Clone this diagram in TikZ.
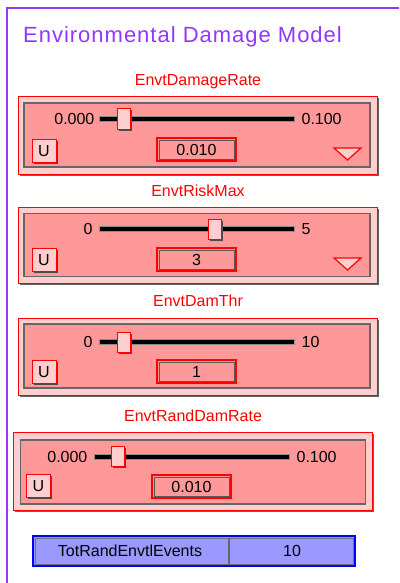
\documentclass[tikz,border=0pt]{standalone}
\usepackage{fontspec}
\setmainfont{Liberation Sans}
\newfontfamily\titlefont[LetterSpace=4.5]{Liberation Sans}
\usetikzlibrary{positioning,shadows}
\definecolor{framepurple}{RGB}{145,55,255}
\definecolor{panelred}{RGB}{255,153,153}
\definecolor{knobpink}{RGB}{255,206,206}
\definecolor{tablue}{RGB}{153,153,255}

\begin{document}
\begin{tikzpicture}[x=1pt,y=-1pt,node distance=4pt,
	panel/.style={shape=rectangle,draw=red,line width=1pt,fill=knobpink,inner sep=0pt,
		drop shadow={shadow xshift=1.5pt,shadow yshift=-1.5pt,fill=black!60,opacity=1}},
	bevel/.style={shape=rectangle,draw=black!60,line width=1.2pt,fill=panelred,inner sep=0pt},
	ctllabel/.style={text=red,inner sep=0pt,anchor=base,font=\fontsize{16}{18}\selectfont},
	numlbl/.style={inner sep=0pt,text height=11.5pt,text depth=0pt,font=\fontsize{16}{18}\selectfont},
	track/.style={shape=rectangle,fill=black,draw=black!45,line width=0.8pt,minimum height=4.5pt,inner sep=0pt},
	knob/.style={shape=rectangle,fill=knobpink,draw=red,line width=1pt,minimum width=13pt,minimum height=20pt,inner sep=0pt,
		drop shadow={shadow xshift=1.5pt,shadow yshift=-1.5pt,fill=black!70,opacity=1}},
	ubutton/.style={shape=rectangle,fill=knobpink,draw=red,line width=1pt,minimum width=24pt,minimum height=23pt,inner sep=0pt,
		text height=11.5pt,text depth=0pt,font=\fontsize{16}{18}\selectfont,
		drop shadow={shadow xshift=1.5pt,shadow yshift=-1.5pt,fill=black!70,opacity=1}},
	valbox/.style={shape=rectangle,draw=red,line width=1.4pt,fill=panelred,minimum width=79pt,minimum height=23pt,inner sep=0pt,
		text height=11.5pt,text depth=0pt,font=\fontsize{16}{18}\selectfont,
		path picture={\draw[black!65,line width=1pt] ([shift={(2pt,-2pt)}]path picture bounding box.north west)
			rectangle ([shift={(-2pt,2pt)}]path picture bounding box.south east);}},
	menutri/.style={draw=red,line width=1.2pt,fill=knobpink,line join=miter}]

	\useasboundingbox (0,0) rectangle (399,583);

	% frame and title
	\draw[framepurple,line width=1.2pt] (399,8) -- (7,8) -- (7,583);
	\node (title) [anchor=base west,inner sep=0pt,text=framepurple,font=\titlefont\fontsize{22}{26}\selectfont]
		at (23,43) {Environmental Damage Model};

	% EnvtDamageRate
	\node (dmglbl) [ctllabel] at (198,86) {EnvtDamageRate};
	\node (dmgrate) [panel,minimum width=359pt,minimum height=77pt] at (197.5,135.5) {};
	\node (dmgin) [bevel,minimum width=346pt,minimum height=64pt] at (197,135) {};
	\node (dmgtrk) [track,minimum width=195pt] at (196.5,119) {};
	\node (dmgmin) [numlbl,left=of dmgtrk] {0.000};
	\node (dmgmax) [numlbl,right=7pt of dmgtrk] {0.100};
	\node (dmgknob) [knob] at (123.5,119) {};
	\node (dmgu) [ubutton] at (44,150.5) {U};
	\node (dmgval) [valbox] at (196.5,149.5) {0.010};
	\draw[menutri] (334,148) -- (361,148) -- (347.5,160) -- cycle;

	% EnvtRiskMax
	\node (risklbl) [ctllabel] at (198,196) {EnvtRiskMax};
	\node (riskmax) [panel,minimum width=359pt,minimum height=76pt] at (197.5,245) {};
	\node (riskin) [bevel,minimum width=346pt,minimum height=63pt] at (197,245) {};
	\node (risktrk) [track,minimum width=195pt] at (196.5,229) {};
	\node (riskmin) [numlbl,left=6pt of risktrk] {0};
	\node (riskmaxv) [numlbl,right=7pt of risktrk] {5};
	\node (riskknob) [knob] at (215,229) {};
	\node (risku) [ubutton] at (44,259.5) {U};
	\node (riskval) [valbox] at (196.5,259.5) {3};
	\draw[menutri] (334,258) -- (361,258) -- (347.5,270) -- cycle;

	% EnvtDamThr
	\node (thrlbl) [ctllabel] at (198,306) {EnvtDamThr};
	\node (damthr) [panel,minimum width=359pt,minimum height=77pt] at (197.5,356.5) {};
	\node (thrin) [bevel,minimum width=346pt,minimum height=64pt] at (197,356) {};
	\node (thrtrk) [track,minimum width=195pt] at (196.5,342) {};
	\node (thrmin) [numlbl,left=6pt of thrtrk] {0};
	\node (thrmax) [numlbl,right=7pt of thrtrk] {10};
	\node (thrknob) [knob] at (123.5,342) {};
	\node (thru) [ubutton] at (44,371.5) {U};
	\node (thrval) [valbox] at (196.5,371.5) {1};

	% EnvtRandDamRate
	\node (randlbl) [ctllabel] at (193,421) {EnvtRandDamRate};
	\node (randrate) [panel,minimum width=359pt,minimum height=78pt] at (192.5,471) {};
	\node (randin) [bevel,minimum width=345pt,minimum height=64pt] at (193,472) {};
	\node (randtrk) [track,minimum width=195pt] at (191.5,457) {};
	\node (randmin) [numlbl,left=6pt of randtrk] {0.000};
	\node (randmax) [numlbl,right=7pt of randtrk] {0.100};
	\node (randknob) [knob] at (117.5,456) {};
	\node (randu) [ubutton] at (38.5,485.5) {U};
	\node (randval) [valbox] at (191.5,486.5) {0.010};

	% TotRandEnvtlEvents
	\node (tot) [shape=rectangle,draw=blue,line width=1.2pt,fill=tablue,minimum width=322pt,minimum height=30pt,inner sep=0pt,
		path picture={\draw[black!55,line width=0.8pt] ([shift={(2pt,-2pt)}]path picture bounding box.north west)
			rectangle ([shift={(-2pt,2pt)}]path picture bounding box.south east);}] at (194,551) {};
	\coordinate (totsplit) at (229,538);
	\draw[black!60,line width=1.2pt] (totsplit) -- (229,564);
	\node (totlbl) [numlbl] at (130,551) {TotRandEnvtlEvents};
	\node (totval) [numlbl] at (292,551) {10};
\end{tikzpicture}
\end{document}
